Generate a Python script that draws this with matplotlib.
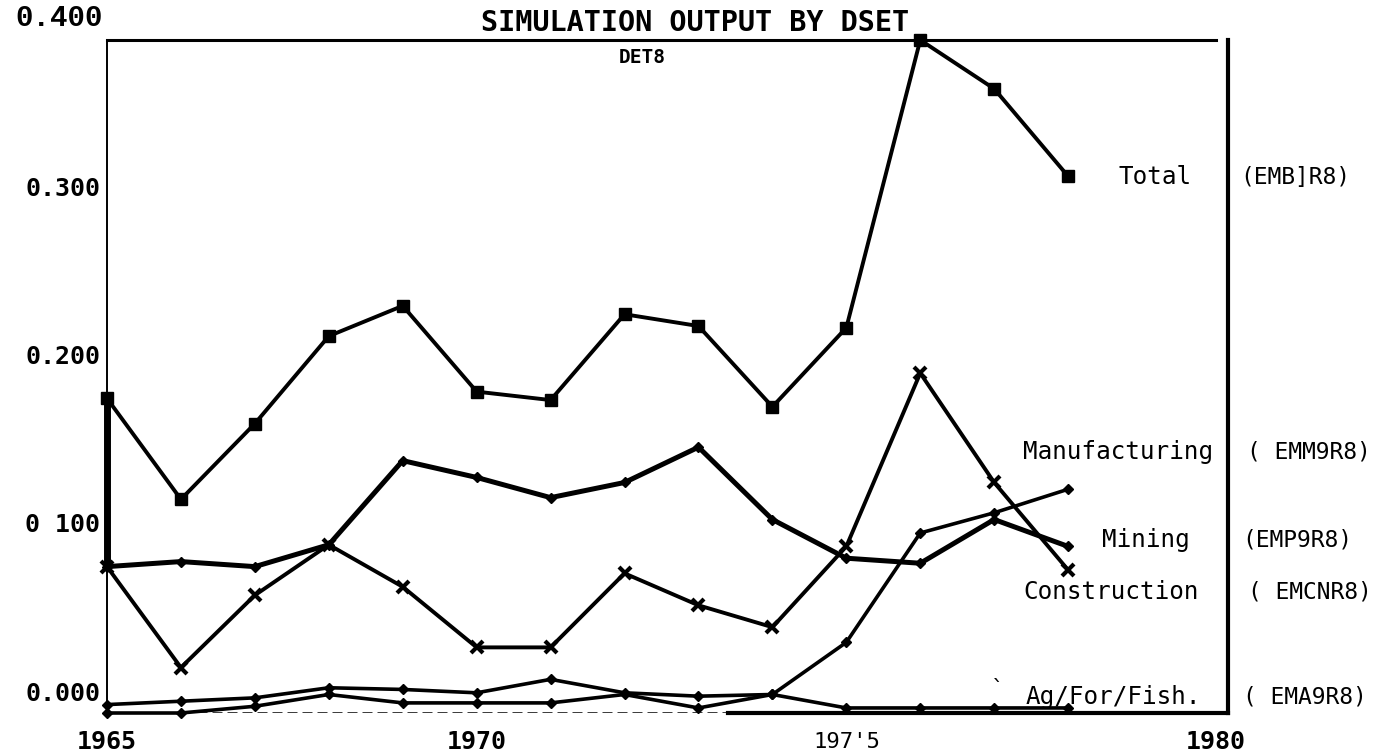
import matplotlib.pyplot as plt
import matplotlib.transforms as mtransforms

years = list(range(1965, 1979))

# series values (y axis 0.000 .. 0.400)
total = [0.187, 0.127, 0.172, 0.224, 0.242, 0.191, 0.186, 0.237, 0.230, 0.182, 0.229, 0.400, 0.371, 0.319]
mining = [0.087, 0.090, 0.087, 0.100, 0.150, 0.140, 0.128, 0.137, 0.158, 0.115, 0.092, 0.089, 0.115, 0.099]
construction = [0.087, 0.027, 0.070, 0.100, 0.075, 0.039, 0.039, 0.083, 0.064, 0.051, 0.099, 0.202, 0.137, 0.085]
manufacturing = [0.000, 0.000, 0.004, 0.011, 0.006, 0.006, 0.006, 0.011, 0.003, 0.011, 0.042, 0.107, 0.119, 0.133]
agff = [0.005, 0.007, 0.009, 0.015, 0.014, 0.012, 0.020, 0.012, 0.010, 0.011, 0.003, 0.003, 0.003, 0.003]

ytick_vals = [0.0, 0.1, 0.2, 0.3]
ytick_labels = ['0.000', '0 100', '0.200', '0.300']
xtick_vals = [1965, 1970, 1975, 1980]
xtick_labels = ['1965', '1970', "197'5", '1980']

mono = 'DejaVu Sans Mono'

fig = plt.figure(figsize=(13.8, 7.56), dpi=100)
ax = fig.add_axes([107 / 1380, 1 - 713 / 756, 1109 / 1380, 673 / 756])
ax.set_xlim(1965, 1980)
ax.set_ylim(0, 0.4)

# frame like the old plotter output
ax.spines['bottom'].set_visible(False)
ax.spines['left'].set_linewidth(1.4)
ax.spines['top'].set_linewidth(2.2)
ax.spines['right'].set_linewidth(3)
ax.spines['right'].set_position(('axes', 1.011))
ax.set_xticks([])
ax.set_yticks([])
ax.axhline(0, xmin=0, xmax=0.56, color='black', lw=1.8, ls=(0, (4, 2)))
ax.axhline(0, xmin=0.56, xmax=1.011, color='black', lw=3, clip_on=False)

# the lines
ax.plot(years, total, color='black', lw=2.8, marker='s', ms=9, clip_on=False, zorder=5)
ax.plot(years, mining, color='black', lw=3.6, marker='D', ms=5, clip_on=False)
ax.plot(years, construction, color='black', lw=2.8, marker='x', ms=9, mew=3, clip_on=False)
ax.plot(years, manufacturing, color='black', lw=2.6, marker='D', ms=5, clip_on=False)
ax.plot(years, agff, color='black', lw=2.6, marker='D', ms=5, clip_on=False)
ax.plot([years[0], years[0]], [mining[0], total[0]], color='black', lw=5, solid_capstyle='butt', clip_on=False)

# title
ax.text(0.530, 1.004, 'SIMULATION OUTPUT BY DSET', transform=ax.transAxes, ha='center', va='bottom',
        family=mono, fontweight='bold', fontsize=20.5)
ax.text(0.483, 0.974, 'DET8', transform=ax.transAxes, ha='center', va='center',
        family=mono, fontweight='bold', fontsize=14)

# y labels sit just above their value
ytrans = mtransforms.offset_copy(ax.get_yaxis_transform(), fig=fig, x=0, y=14, units='points')
for v, lab in zip(ytick_vals, ytick_labels):
    ax.text(-0.006, v, lab, transform=ytrans, ha='right', va='center',
            family=mono, fontweight='bold', fontsize=18)
ax.text(-0.004, 0.4, '0.400', transform=mtransforms.offset_copy(ax.get_yaxis_transform(), fig=fig, x=0, y=16, units='points'),
        ha='right', va='center', family='Liberation Mono', fontweight='bold', fontsize=21)

# x labels
for v, lab in zip(xtick_vals, xtick_labels):
    if "'" in lab:
        ax.text(v, -0.043, lab, transform=ax.get_xaxis_transform(), ha='center', va='center',
                family=mono, fontsize=16)
    else:
        ax.text(v, -0.043, lab, transform=ax.get_xaxis_transform(), ha='center', va='center',
                family=mono, fontweight='bold', fontsize=18)

# series names and codes on the right
names = [('Total', 0.912, 0.796, '(EMB]R8)', 1.022),
         ('Manufacturing', 0.826, 0.388, '( EMM9R8)', 1.028),
         ('Mining', 0.897, 0.257, '(EMP9R8)', 1.024),
         ('Construction', 0.826, 0.180, '( EMCNR8)', 1.029),
         ('Ag/For/Fish.', 0.828, 0.024, '( EMA9R8)', 1.024)]
for name, nx, ny, code, cx in names:
    ax.text(nx, ny, name, transform=ax.transAxes, ha='left', va='center', family=mono, fontsize=17.5)
    ax.text(cx, ny, code, transform=ax.transAxes, ha='left', va='center', family=mono, fontsize=16.5)
ax.text(0.803, 0.036, '`', transform=ax.transAxes, ha='center', va='center', family=mono, fontsize=16)

plt.savefig('out.png', dpi=100)
